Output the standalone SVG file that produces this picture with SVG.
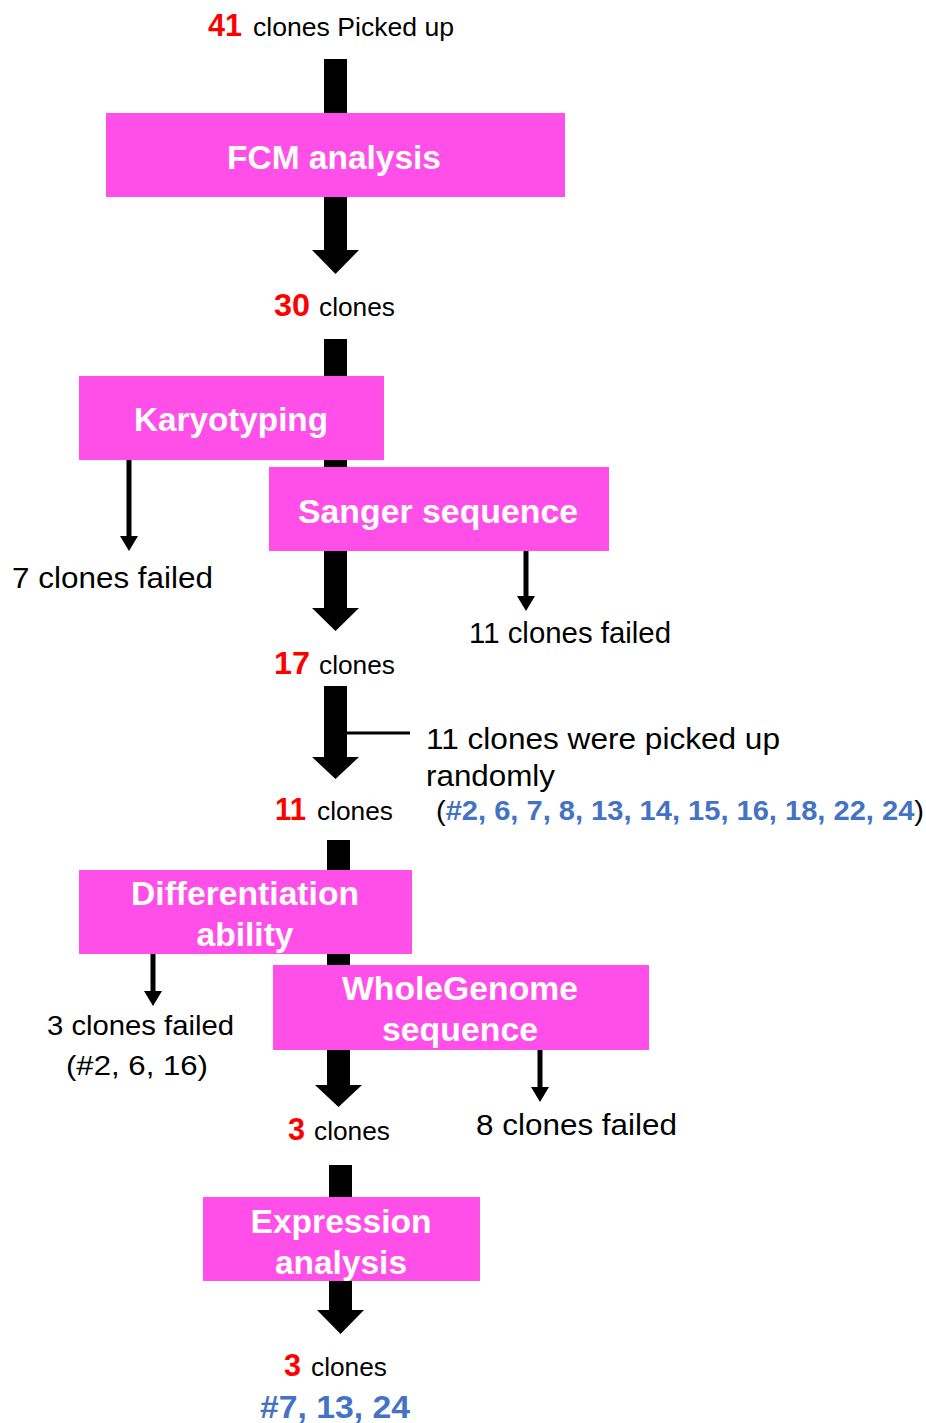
<svg xmlns="http://www.w3.org/2000/svg" width="926" height="1423" viewBox="0 0 926 1423">
<style>
.box{fill:#FF4FE8}
.bt{font-family:"Liberation Sans",Arial,sans-serif;font-weight:bold;fill:#fff;text-anchor:middle}
.t{font-family:"Liberation Sans",Arial,sans-serif;fill:#000}
.r{font-family:"Liberation Sans",Arial,sans-serif;font-weight:bold;fill:#FF0000}
.b{font-family:"Liberation Sans",Arial,sans-serif;font-weight:bold;fill:#4472C4}
.bar{fill:#000}
.thin{stroke:#000;stroke-width:5;fill:none}
</style>
<defs>
<marker id="ah" viewBox="0 0 10 8" refX="5" refY="8" markerWidth="3.6" markerHeight="2.9" orient="auto" markerUnits="strokeWidth">
<path d="M0,0 L10,0 L5,8 Z" fill="#000"/>
</marker>
</defs>
<g id="connectors">
<rect class="bar" x="324" y="59" width="23" height="60"/>
<path class="bar" d="M324,190 H347 V250 H359 L335.5,274 L312,250 H324 Z"/>
<rect class="bar" x="324" y="339" width="23" height="140"/>
<path class="bar" d="M324,545 H347 V608 H359 L335.5,631 L312,608 H324 Z"/>
<path class="bar" d="M324,686 H347 V757 H359 L335.5,779 L312,757 H324 Z"/>
<line x1="347" y1="733" x2="410" y2="733" stroke="#000" stroke-width="3"/>
<rect class="bar" x="327" y="840" width="23" height="135"/>
<path class="bar" d="M327,1045 H350 V1085 H362 L338.5,1107 L315,1085 H327 Z"/>
<rect class="bar" x="329" y="1165" width="23" height="40"/>
<path class="bar" d="M329,1275 H352 V1310 H364 L340.5,1334 L317,1310 H329 Z"/>
<line class="thin" x1="129" y1="460" x2="129" y2="537"/>
<path d="M120,536 H138 L129,551 Z" fill="#000"/>
<line class="thin" x1="526" y1="551" x2="526" y2="597"/>
<path d="M517,596 H535 L526,611 Z" fill="#000"/>
<line class="thin" x1="153" y1="954" x2="153" y2="992"/>
<path d="M144,991 H162 L153,1006 Z" fill="#000"/>
<line class="thin" x1="540" y1="1050" x2="540" y2="1088"/>
<path d="M531,1087 H549 L540,1102 Z" fill="#000"/>
</g>
<g id="start">
<text x="208" y="36" class="r" font-size="31" textLength="34" lengthAdjust="spacingAndGlyphs">41</text>
<text x="253" y="36" class="t" font-size="26" textLength="201" lengthAdjust="spacingAndGlyphs">clones Picked up</text>
</g>
<g id="fcm">
<rect class="box" x="106" y="113" width="459" height="84"/>
<text x="334" y="169" class="bt" font-size="33" textLength="214" lengthAdjust="spacingAndGlyphs">FCM analysis</text>
</g>
<g id="c30">
<text x="274" y="316" class="r" font-size="32" textLength="36" lengthAdjust="spacingAndGlyphs">30</text>
<text x="319" y="316" class="t" font-size="26" textLength="76" lengthAdjust="spacingAndGlyphs">clones</text>
</g>
<g id="karyotyping">
<rect class="box" x="79" y="376" width="305" height="84"/>
<text x="231" y="431" class="bt" font-size="33" textLength="194" lengthAdjust="spacingAndGlyphs">Karyotyping</text>
</g>
<g id="fail7">
<text x="12" y="588" class="t" font-size="30" textLength="201" lengthAdjust="spacingAndGlyphs">7 clones failed</text>
</g>
<g id="sanger">
<rect class="box" x="269" y="467" width="340" height="84"/>
<text x="438" y="523" class="bt" font-size="33" textLength="280" lengthAdjust="spacingAndGlyphs">Sanger sequence</text>
</g>
<g id="fail11">
<text x="469" y="643" class="t" font-size="29" textLength="202" lengthAdjust="spacingAndGlyphs">11 clones failed</text>
</g>
<g id="c17">
<text x="274" y="674" class="r" font-size="32" textLength="36" lengthAdjust="spacingAndGlyphs">17</text>
<text x="319" y="674" class="t" font-size="26" textLength="76" lengthAdjust="spacingAndGlyphs">clones</text>
</g>
<g id="random">
<text x="426" y="749" class="t" font-size="30" textLength="354" lengthAdjust="spacingAndGlyphs">11 clones were picked up</text>
<text x="426" y="786" class="t" font-size="30" textLength="129" lengthAdjust="spacingAndGlyphs">randomly</text>
<text x="436" y="820" font-size="28" textLength="488" lengthAdjust="spacingAndGlyphs"><tspan class="t">(</tspan><tspan class="b">#2, 6, 7, 8, 13, 14, 15, 16, 18, 22, 24</tspan><tspan class="t">)</tspan></text>
</g>
<g id="c11">
<text x="275" y="820" class="r" font-size="32" textLength="31" lengthAdjust="spacingAndGlyphs">11</text>
<text x="317" y="820" class="t" font-size="26" textLength="76" lengthAdjust="spacingAndGlyphs">clones</text>
</g>
<g id="differentiation">
<rect class="box" x="79" y="870" width="333" height="84"/>
<text x="245" y="905" class="bt" font-size="33" textLength="228" lengthAdjust="spacingAndGlyphs">Differentiation</text>
<text x="245" y="946" class="bt" font-size="33" textLength="97" lengthAdjust="spacingAndGlyphs">ability</text>
</g>
<g id="fail3">
<text x="47" y="1035" class="t" font-size="28" textLength="187" lengthAdjust="spacingAndGlyphs">3 clones failed</text>
<text x="66" y="1075" class="t" font-size="28" textLength="142" lengthAdjust="spacingAndGlyphs">(#2, 6, 16)</text>
</g>
<g id="wholegenome">
<rect class="box" x="273" y="965" width="376" height="85"/>
<text x="460" y="1000" class="bt" font-size="33" textLength="236" lengthAdjust="spacingAndGlyphs">WholeGenome</text>
<text x="460" y="1041" class="bt" font-size="33" textLength="156" lengthAdjust="spacingAndGlyphs">sequence</text>
</g>
<g id="fail8">
<text x="476" y="1135" class="t" font-size="30" textLength="201" lengthAdjust="spacingAndGlyphs">8 clones failed</text>
</g>
<g id="c3a">
<text x="288" y="1140" class="r" font-size="32" textLength="17" lengthAdjust="spacingAndGlyphs">3</text>
<text x="314" y="1140" class="t" font-size="26" textLength="76" lengthAdjust="spacingAndGlyphs">clones</text>
</g>
<g id="expression">
<rect class="box" x="203" y="1197" width="277" height="84"/>
<text x="341" y="1233" class="bt" font-size="33" textLength="181" lengthAdjust="spacingAndGlyphs">Expression</text>
<text x="341" y="1274" class="bt" font-size="33" textLength="132" lengthAdjust="spacingAndGlyphs">analysis</text>
</g>
<g id="c3b">
<text x="284" y="1376" class="r" font-size="32" textLength="17" lengthAdjust="spacingAndGlyphs">3</text>
<text x="311" y="1376" class="t" font-size="26" textLength="76" lengthAdjust="spacingAndGlyphs">clones</text>
<text x="260" y="1418" class="b" font-size="31" textLength="150" lengthAdjust="spacingAndGlyphs">#7, 13, 24</text>
</g>
</svg>
